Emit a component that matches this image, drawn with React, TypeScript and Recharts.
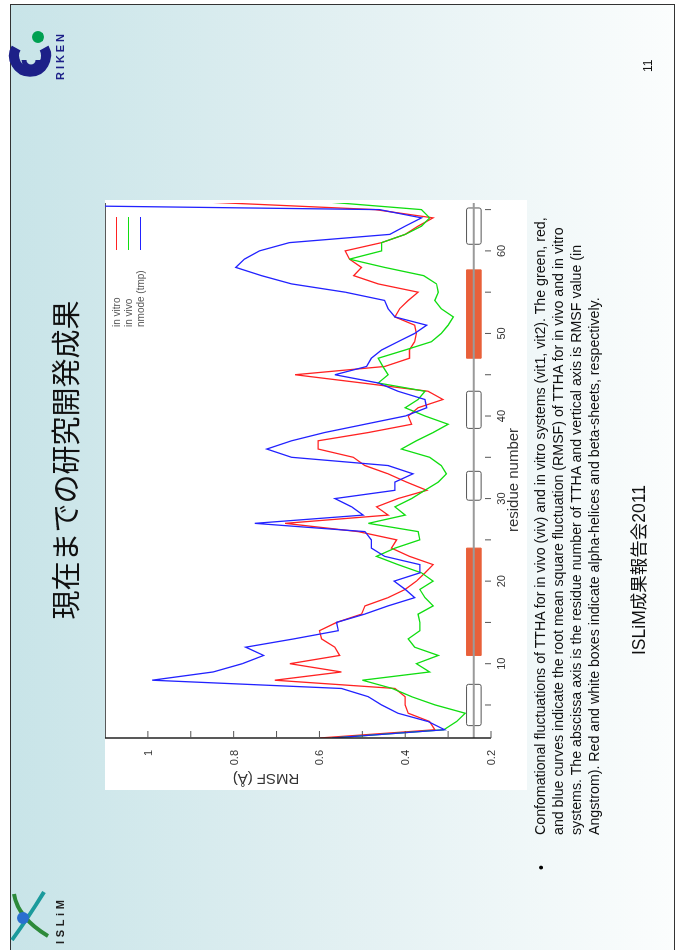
import React from 'react';
import { LineChart, Line, XAxis, YAxis, ReferenceLine, ReferenceArea, Legend } from 'recharts';

// residue index (abscissa)
const residues = [
  1, 2, 3, 4, 5, 6, 7, 8, 9, 10, 11, 12, 13, 14, 15, 16, 17, 18, 19, 20, 21, 22,
  23, 24, 25, 26, 27, 28, 29, 30, 31, 32, 33, 34, 35, 36, 37, 38, 39, 40, 41, 42, 43, 44,
  45, 46, 47, 48, 49, 50, 51, 52, 53, 54, 55, 56, 57, 58, 59, 60, 61, 62, 63, 64, 65, 66,
];

// RMSF (A)
const inVitro = [
  0.6, 0.331, 0.343, 0.393, 0.4, 0.4, 0.424, 0.704, 0.549, 0.669, 0.553, 0.564, 0.595, 0.6, 0.56, 0.502,
  0.494, 0.44, 0.4, 0.374, 0.354, 0.335, 0.39, 0.432, 0.42, 0.51, 0.68, 0.44, 0.467, 0.417, 0.35, 0.397,
  0.44, 0.494, 0.521, 0.603, 0.603, 0.486, 0.385, 0.393, 0.37, 0.312, 0.347, 0.5, 0.657, 0.448, 0.39, 0.39,
  0.378, 0.374, 0.378, 0.424, 0.413, 0.393, 0.37, 0.463, 0.52, 0.502, 0.53, 0.54, 0.455, 0.4, 0.37, 0.335,
  0.47, 0.9,
];
const inVivo = [
  0.57, 0.31, 0.28, 0.26, 0.33, 0.385, 0.43, 0.5, 0.343, 0.374, 0.323, 0.378, 0.393, 0.366, 0.366, 0.37,
  0.335, 0.354, 0.366, 0.335, 0.362, 0.417, 0.467, 0.424, 0.366, 0.37, 0.486, 0.4, 0.424, 0.385, 0.354, 0.323,
  0.304, 0.316, 0.343, 0.409, 0.374, 0.335, 0.3, 0.354, 0.4, 0.37, 0.354, 0.463, 0.44, 0.452, 0.463, 0.4,
  0.339, 0.316, 0.3, 0.288, 0.316, 0.331, 0.323, 0.327, 0.357, 0.448, 0.53, 0.455, 0.455, 0.4, 0.362, 0.343,
  0.362, 0.6,
];
const nmode = [
  0.57, 0.308, 0.347, 0.417, 0.455, 0.486, 0.549, 0.99, 0.848, 0.78, 0.73, 0.772, 0.66, 0.556, 0.56, 0.495,
  0.44, 0.378, 0.4, 0.426, 0.366, 0.366, 0.448, 0.479, 0.479, 0.494, 0.751, 0.498, 0.525, 0.564, 0.424, 0.424,
  0.382, 0.44, 0.665, 0.723, 0.665, 0.588, 0.494, 0.4, 0.35, 0.354, 0.417, 0.463, 0.564, 0.49, 0.479, 0.455,
  0.417, 0.378, 0.35, 0.424, 0.44, 0.448, 0.54, 0.665, 0.735, 0.795, 0.775, 0.74, 0.67, 0.436, 0.4, 0.362,
  0.46, 2.0,
];

const xTicks = [5, 10, 15, 20, 25, 30, 35, 40, 45, 50, 55, 60, 65];
const xTickLabels = [10, 20, 30, 40, 50, 60];
const yTicks = [0.2, 0.3, 0.4, 0.5, 0.6, 0.7, 0.8, 0.9, 1.0];
const yTickLabels = ['0.2', '0.4', '0.6', '0.8', '1'];

// secondary structure (residue ranges)
const helixRanges = [[11, 24], [47, 57.7]];
const sheetRanges = [[2.5, 7.5], [29.8, 33.3], [38.5, 43], [60.8, 65.2]];

const captionLines = [
  'Confomational fluctuations of TTHA for in vivo (viv) and in vitro systems (vit1, vit2). The green, red,',
  'and blue curves indicate the root mean square fluctuation (RMSF) of TTHA for in vivo and in vitro',
  'systems. The abscissa axis is the residue number of TTHA and vertical axis is RMSF value (in',
  'Angstrom). Red and white boxes indicate alpha-helices and beta-sheets, respectively.',
];

const data = residues.map((r, i) => ({ r, vitro: inVitro[i], vivo: inVivo[i], nmode: nmode[i] }));

const SANS = '"Liberation Sans", Arial, sans-serif';
const NARROW = '"Liberation Sans Narrow", "Arial Narrow", "Liberation Sans", sans-serif';

const fmtY = (v: number) => {
  const s = v === 1 ? '1' : v.toFixed(1);
  return yTickLabels.includes(s) ? s : '';
};

const LegendBox = ({ payload }: any) => (
  <div style={{ fontFamily: SANS, fontSize: 10, color: '#555' }}>
    {(payload || []).map((p: any) => (
      <div key={p.value} style={{ display: 'flex', alignItems: 'center', height: 11.7 }}>
        <span style={{ width: 77, whiteSpace: 'nowrap' }}>{p.value}</span>
        <span style={{ width: 33, height: 0, borderTop: `1.3px solid ${p.color}` }} />
      </div>
    ))}
  </div>
);

function RmsfChart() {
  return (
    <div style={{ position: 'absolute', left: 160, top: 105, width: 590, height: 422, background: '#fff' }}>
      <LineChart width={590} height={422} data={data} margin={{ top: 0, right: 3, bottom: 0, left: 0 }}>
        <XAxis
          dataKey="r"
          type="number"
          domain={[1, 65.8]}
          allowDataOverflow
          ticks={xTicks}
          interval={0}
          tickFormatter={(v) => (xTickLabels.includes(v) ? String(v) : '')}
          tickSize={-6}
          tickMargin={12}
          axisLine={false}
          tickLine={{ stroke: '#555' }}
          tick={{ fontSize: 11, fill: '#333', fontFamily: SANS }}
          height={36}
        />
        <YAxis
          type="number"
          domain={[0.2, 1.1]}
          allowDataOverflow
          ticks={yTicks}
          interval={0}
          tickFormatter={fmtY}
          tickSize={-7}
          tickMargin={19}
          axisLine={{ stroke: '#222', strokeWidth: 1.5 }}
          tickLine={{ stroke: '#555' }}
          tick={{ fontSize: 11, fill: '#333', fontFamily: SANS }}
          width={52}
        />
        <ReferenceLine y={1.1} stroke="#222" strokeWidth={1.5} />
        <ReferenceLine y={0.24} stroke="#9a9a9a" strokeWidth={2} />
        {helixRanges.map(([a, b]) => (
          <ReferenceArea key={`h${a}`} x1={a} x2={b} y1={0.223} y2={0.257} fill="#e8603a" fillOpacity={1} stroke="#e8603a" />
        ))}
        {sheetRanges.map(([a, b]) => (
          <ReferenceArea key={`s${a}`} x1={a} x2={b} y1={0.223} y2={0.257} fill="#ffffff" fillOpacity={1} stroke="#555" radius={2} />
        ))}
        <Legend
          layout="vertical"
          align="center"
          verticalAlign="middle"
          content={<LegendBox />}
          wrapperStyle={{ left: 463, top: 6, width: 115, height: 36 }}
        />
        <Line dataKey="vitro" name="in vitro" type="linear" stroke="#ff2222" strokeWidth={1.3} dot={false} isAnimationActive={false} />
        <Line dataKey="vivo" name="in vivo" type="linear" stroke="#11dd11" strokeWidth={1.3} dot={false} isAnimationActive={false} />
        <Line dataKey="nmode" name="nmode (tmp)" type="linear" stroke="#2222ff" strokeWidth={1.3} dot={false} isAnimationActive={false} />
      </LineChart>
      <div
        style={{
          position: 'absolute', left: 10, top: 161, transform: 'translate(-50%, -50%) rotate(-90deg)',
          whiteSpace: 'nowrap', fontFamily: SANS, fontSize: 15, color: '#333',
        }}
      >
        RMSF (Å)
      </div>
      <div
        style={{
          position: 'absolute', left: 310, top: 407, transform: 'translate(-50%, -50%)',
          whiteSpace: 'nowrap', fontFamily: SANS, fontSize: 15, color: '#333',
        }}
      >
        residue number
      </div>
    </div>
  );
}

function RikenLogo() {
  return (
    <svg width={60} height={60} style={{ position: 'absolute', left: 866, top: 8 }}>
      <path d="M 36 8 A 16 16 0 1 0 36 36" fill="none" stroke="#1d2088" strokeWidth={10} />
      <path d="M 24 30 A 7 7 0 0 1 24 16" fill="none" stroke="#1d2088" strokeWidth={5} />
      <circle cx={47} cy={30} r={6} fill="#00a051" />
      <text x={4} y={56} fontSize={11} fontWeight="bold" fill="#1d2088" fontFamily={SANS} textLength={46}>RIKEN</text>
    </svg>
  );
}

function IslimLogo() {
  return (
    <svg width={62} height={60} style={{ position: 'absolute', left: 2, top: 8 }}>
      <path d="M 8 4 Q 30 20 56 36" fill="none" stroke="#1b9a9c" strokeWidth={4} />
      <path d="M 12 40 Q 30 10 54 6" fill="none" stroke="#2d8a3a" strokeWidth={4} />
      <circle cx={30} cy={15} r={6} fill="#2a6fd0" />
      <text x={4} y={56} fontSize={11} fontWeight="bold" fill="#222" fontFamily={SANS} textLength={44}>ISLiM</text>
    </svg>
  );
}

export default function App() {
  return (
    <div
      style={{
        position: 'fixed', left: 0, top: 0, width: 950, height: 678, background: '#fff',
        transformOrigin: '0 0', transform: 'translate(0px, 950px) rotate(-90deg)',
      }}
    >
      <div
        style={{
          position: 'absolute', left: 0, top: 10, width: 946, height: 665, boxSizing: 'border-box',
          borderTop: '1.5px solid #333', borderRight: '1.5px solid #333', borderBottom: '1.5px solid #333',
          background: 'linear-gradient(to bottom, #c8e4e8 0%, #e2f0f2 50%, #fbfdfd 100%)',
        }}
      />
      <IslimLogo />
      <RikenLogo />
      <div
        style={{
          position: 'absolute', left: 325, top: 44, width: 330, textAlign: 'center',
          fontFamily: '"Noto Sans CJK JP", sans-serif', fontSize: 29, lineHeight: '40px', color: '#111',
        }}
      >
        現在までの研究開発成果
      </div>
      <RmsfChart />
      <div style={{ position: 'absolute', left: 80, top: 532, fontFamily: SANS, fontSize: 14, lineHeight: '18px' }}>•</div>
      <div style={{ position: 'absolute', left: 115, top: 531, fontFamily: NARROW, fontSize: 14.2, lineHeight: '18px', color: '#111' }}>
        {captionLines.map((l) => (
          <div key={l} style={{ whiteSpace: 'nowrap' }}>{l}</div>
        ))}
      </div>
      <div
        style={{
          position: 'absolute', left: 295, top: 629, whiteSpace: 'nowrap',
          fontFamily: '"Liberation Sans", "Noto Sans CJK JP", sans-serif', fontSize: 17.5, lineHeight: '20px', color: '#111',
        }}
      >
        ISLiM成果報告会2011
      </div>
      <div
        style={{
          position: 'absolute', left: 878, top: 640, fontFamily: SANS, fontSize: 12, lineHeight: '16px', color: '#111',
        }}
      >
        11
      </div>
    </div>
  );
}
